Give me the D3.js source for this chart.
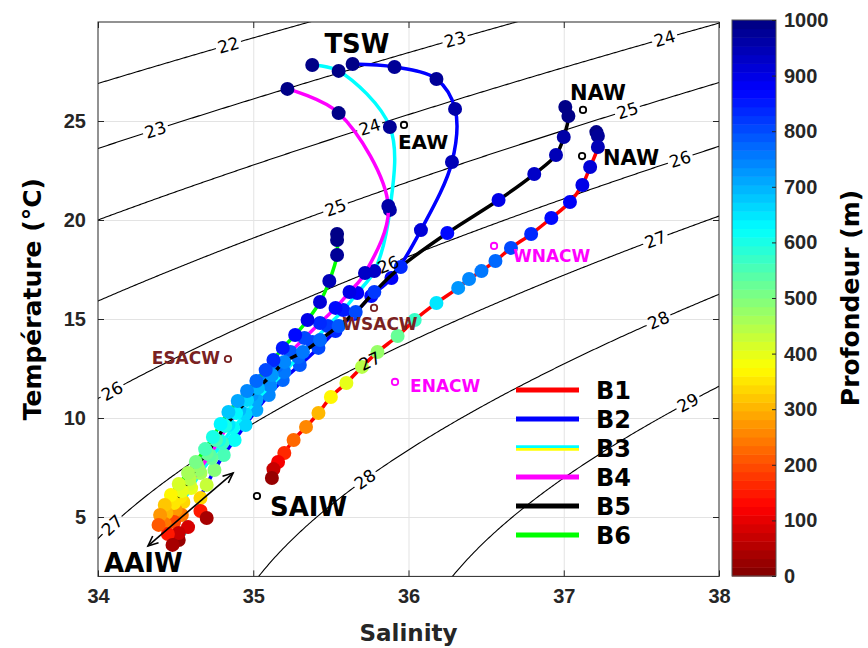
<!DOCTYPE html>
<html><head><meta charset="utf-8">
<script src="https://cdn.jsdelivr.net/npm/d3@7/dist/d3.min.js"></script>
<style>
body{margin:0;background:#fff}
text{font-family:"Liberation Sans",Arial,sans-serif}
</style>
</head><body>
<svg id="chart" width="868" height="648"></svg>
<script>
// ---------------- DATA ----------------
const stationNames = ["B1","B2","B3","B4","B5","B6"];
const stationLineColors = ["#ff0000","#0000ff","#00ffff","#ff00ff","#000000","#00ff00"];

const b1Sal   = [37.21,37.22,37.22,37.17,37.12,37.04,36.92,36.79,36.66,36.56,36.47,36.39,36.32,36.18,36.04,35.93,35.80,35.70,35.60,35.50,35.42,35.34,35.26,35.20,35.16,35.13,35.12];
const b1Temp  = [24.44,24.24,23.69,22.68,21.77,20.91,20.10,19.29,18.59,17.93,17.42,17.02,16.57,15.81,14.95,14.14,13.33,12.58,11.77,11.06,10.25,9.55,8.89,8.23,7.78,7.42,6.97];
const b1Depth = [1000,980,950,920,900,880,860,840,810,780,760,740,720,650,570,530,480,440,400,360,310,260,220,160,110,70,20];

const b2Sal   = [35.64,35.91,36.18,36.30,36.28,36.08,35.89,35.76,35.65,35.53,35.42,35.30,35.19,35.10,35.02,34.95,34.88,34.81,34.75,34.70,34.66,34.66,34.70];
const b2Temp  = [27.88,27.73,27.12,25.61,22.93,19.49,17.07,16.16,15.25,14.39,13.54,12.68,11.92,11.16,10.40,9.65,8.89,8.13,7.37,6.62,5.96,5.30,4.95];
const b2Depth = [990,980,970,960,940,910,890,870,850,830,810,790,770,745,715,670,620,560,500,430,330,150,40];

const b3Sal   = [35.38,35.55,35.88,35.88,35.78,35.67,35.58,35.48,35.38,35.29,35.20,35.11,35.02,34.95,34.87,34.80,34.73,34.66,34.60,34.55,34.54,34.58,34.52];
const b3Temp  = [27.83,27.53,24.70,20.51,17.42,16.31,15.45,14.65,13.84,13.08,12.32,11.62,10.91,10.20,9.49,8.74,7.98,7.22,6.46,5.76,5.10,4.49,3.84];
const b3Depth = [1000,990,975,955,925,885,855,825,800,780,760,735,705,670,625,575,520,460,400,330,250,80,30];

const b4Sal   = [35.22,35.55,35.87,35.72,35.62,35.53,35.43,35.33,35.24,35.15,35.06,34.99,34.91,34.84,34.78,34.72,34.65,34.59,34.53,34.50,34.49,34.52];
const b4Temp  = [26.62,25.40,20.71,17.32,16.36,15.56,14.80,14.04,13.33,12.63,11.92,11.16,10.40,9.65,8.89,8.13,7.37,6.67,6.01,5.35,4.75,4.19];
const b4Depth = [1000,990,960,930,895,865,835,810,790,770,750,725,690,645,595,540,480,420,350,280,190,70];

const b5Sal   = [37.01,37.03,37.00,36.95,36.81,36.58,36.25,35.95,35.78,35.66,35.55,35.43,35.32,35.20,35.12,35.03,34.96,34.89,34.82,34.76,34.70,34.64,34.59,34.54,34.49,34.44,34.43,34.45,34.48];
const b5Temp  = [25.71,25.25,24.19,23.28,22.32,21.01,19.34,17.63,16.36,15.35,14.65,13.94,13.33,12.83,12.17,11.52,10.91,10.25,9.60,8.89,8.23,7.58,6.92,6.31,5.71,5.20,4.65,4.14,3.59];
const b5Depth = [1000,990,965,945,925,900,870,840,815,800,785,770,755,740,720,700,670,640,600,560,520,480,440,395,350,300,240,150,40];

const b6Sal   = [35.54,35.54,35.54,35.49,35.43,35.35,35.27,35.19,35.13,35.08,35.02,34.96,34.90,34.84,34.79,34.74,34.69,34.63,34.58,34.52,34.47,34.43,34.40,34.39];
const b6Temp  = [19.29,18.99,18.23,16.92,15.86,14.95,14.19,13.54,12.93,12.42,11.87,11.36,10.86,10.30,9.70,9.04,8.43,7.78,7.22,6.67,6.11,5.61,5.10,4.60];
const b6Depth = [1000,995,975,950,920,895,870,850,830,800,775,745,715,680,640,600,555,510,465,420,370,320,270,210];

const xTicks = [34,35,36,37,38];
const yTicks = [5,10,15,20,25];
const depthTicks = [0,100,200,300,400,500,600,700,800,900,1000];
const sigmaLevels = [22,23,24,25,26,27,28,29];
// salinity at which each isopycnal is labelled
const sigmaLabelSal = [[34.84],[34.37,36.30],[35.75,37.65],[35.53,37.41],[34.09,35.87,37.75],[34.09,35.75,37.59],[35.72,37.61],[37.80]];

// water-mass annotations (marker position and text position, in S/T units)
const wmNames   = ["TSW","EAW","NAW","NAW","WNACW","WSACW","ESACW","ENACW","SAIW","AAIW"];
const wmMarkS   = [null,35.971,37.124,37.118,36.551,35.778,34.837,35.913,35.024,null];
const wmMarkT   = [null,24.80,25.56,23.23,18.69,15.56,12.98,11.82,6.06,null];
const wmTextS   = [35.668,35.932,37.040,37.253,36.673,35.816,34.786,36.010,35.108,34.039];
const wmTextT   = [28.89,23.94,26.46,23.18,18.18,14.75,13.03,11.62,5.51,2.68];
const wmAnchor  = ["middle","start","start","start","start","middle","end","start","start","start"];
const wmSize    = [26,20,21,21,17,17,17,17,26,26];
const wmColor   = ["#000","#000","#000","#000","#ff00ff","#7a2222","#7a2222","#ff00ff","#000","#000"];
const arrowS = [34.322,34.870];
const arrowT = [3.54,7.22];

// ---------------- CHART ----------------
const svg = d3.select("#chart");
const L = 98, R = 719, T = 22, B = 576.4;
const x = d3.scaleLinear().domain([34,38]).range([L,R]);
const y = d3.scaleLinear().domain([2,30]).range([B,T]);
const cb = d3.scaleLinear().domain([0,1000]).range([576,20]);
const axisColor = "#262626";
const fmt = d3.format("d");
const dejavu = "'DejaVu Sans',sans-serif";

function jetColor(v){
  const t = 1 - Math.max(0,Math.min(1000,v))/1000;
  const idx = Math.min(63, Math.floor(t*64));
  const q = (idx+0.5)/64;
  const c = u => Math.round(255*Math.max(0,Math.min(1,u)));
  return `rgb(${c(1.5-Math.abs(4*q-3))},${c(1.5-Math.abs(4*q-2))},${c(1.5-Math.abs(4*q-1))})`;
}

// UNESCO EOS-80 potential density anomaly at p=0
function sigma0(S,Tc){
  const rw = 999.842594 + 6.793952e-2*Tc - 9.095290e-3*Tc*Tc + 1.001685e-4*Tc**3 - 1.120083e-6*Tc**4 + 6.536332e-9*Tc**5;
  const A = 8.24493e-1 - 4.0899e-3*Tc + 7.6438e-5*Tc*Tc - 8.2467e-7*Tc**3 + 5.3875e-9*Tc**4;
  const Bc = -5.72466e-3 + 1.0227e-4*Tc - 1.6546e-6*Tc*Tc;
  return rw + A*S + Bc*Math.pow(S,1.5) + 4.8314e-4*S*S - 1000;
}
function solveT(lev,S){
  let lo=-2, hi=40;
  if (sigma0(S,lo) < lev || sigma0(S,hi) > lev) return null;
  for (let i=0;i<60;i++){ const m=(lo+hi)/2; if (sigma0(S,m) > lev) lo=m; else hi=m; }
  return (lo+hi)/2;
}

const defs = svg.append("defs");
defs.append("clipPath").attr("id","plotclip").append("rect")
  .attr("x",L).attr("y",T).attr("width",R-L).attr("height",B-T);

// grid
const grid = svg.append("g");
grid.append("g").attr("transform",`translate(0,${B})`)
  .call(d3.axisBottom(x).tickValues(xTicks.slice(1,-1)).tickSize(-(B-T)).tickFormat(""))
  .call(g=>g.select(".domain").remove())
  .call(g=>g.selectAll("line").attr("stroke","#e3e3e3").attr("stroke-width",1));
grid.append("g").attr("transform",`translate(${L},0)`)
  .call(d3.axisLeft(y).tickValues(yTicks).tickSize(-(R-L)).tickFormat(""))
  .call(g=>g.select(".domain").remove())
  .call(g=>g.selectAll("line").attr("stroke","#e3e3e3").attr("stroke-width",1));

// contour label positions
const labels = [];
sigmaLevels.forEach((lev,i)=>{
  sigmaLabelSal[i].forEach(s=>{
    const t0 = solveT(lev,s), t1 = solveT(lev,s-0.03), t2 = solveT(lev,s+0.03);
    const ang = Math.atan2(y(t2)-y(t1), x(s+0.03)-x(s-0.03))*180/Math.PI;
    labels.push({lev, s, t:t0, ang});
  });
});
const mask = defs.append("mask").attr("id","lblmask");
mask.append("rect").attr("x",0).attr("y",0).attr("width",868).attr("height",648).attr("fill","#fff");
labels.forEach(d=>{
  mask.append("rect").attr("x",-13).attr("y",-8).attr("width",26).attr("height",16).attr("fill","#000")
    .attr("transform",`translate(${x(d.s)},${y(d.t)}) rotate(${d.ang})`);
});

// isopycnals
const sGrid = d3.range(33.9,38.11,0.01);
const cLine = d3.line().x(d=>x(d[0])).y(d=>y(d[1]));
const contourG = svg.append("g").attr("clip-path","url(#plotclip)")
  .append("g").attr("mask","url(#lblmask)");
sigmaLevels.forEach(lev=>{
  const pts = sGrid.map(s=>[s,solveT(lev,s)]).filter(p=>p[1]!==null && p[1]>1 && p[1]<31);
  contourG.append("path").attr("d",cLine(pts)).attr("fill","none").attr("stroke","#000").attr("stroke-width",1.1);
});

// stations
const stations = [
  [b1Sal,b1Temp,b1Depth],[b2Sal,b2Temp,b2Depth],[b3Sal,b3Temp,b3Depth],
  [b4Sal,b4Temp,b4Depth],[b5Sal,b5Temp,b5Depth],[b6Sal,b6Temp,b6Depth]
];
const sLine = d3.line().x(d=>x(d.s)).y(d=>y(d.t)).curve(d3.curveCatmullRom.alpha(0.5));
const stG = svg.append("g").attr("clip-path","url(#plotclip)");
stations.forEach((st,i)=>{
  const pts = st[0].map((s,k)=>({s, t:st[1][k], d:st[2][k]}));
  stG.append("path").attr("d",sLine(pts)).attr("fill","none")
    .attr("stroke",stationLineColors[i]).attr("stroke-width",3.5);
  stG.selectAll(null).data(pts).enter().append("circle")
    .attr("cx",d=>x(d.s)).attr("cy",d=>y(d.t)).attr("r",7)
    .attr("fill",d=>jetColor(d.d));
});

// contour labels
svg.append("g").selectAll("text").data(labels).enter().append("text")
  .attr("transform",d=>`translate(${x(d.s)},${y(d.t)}) rotate(${d.ang})`)
  .attr("text-anchor","middle").attr("dy","0.36em")
  .style("font-family",dejavu).style("font-size","17px")
  .text(d=>d.lev);

// water mass annotations
const wmG = svg.append("g");
wmNames.forEach((n,i)=>{
  if (wmMarkS[i]!==null){
    wmG.append("circle").attr("cx",x(wmMarkS[i])).attr("cy",y(wmMarkT[i])).attr("r",3.2)
      .attr("fill","none").attr("stroke",wmColor[i]).attr("stroke-width",1.8);
  }
  wmG.append("text").attr("x",x(wmTextS[i])).attr("y",y(wmTextT[i])).attr("dy","0.36em")
    .attr("text-anchor",wmAnchor[i]).attr("fill",wmColor[i])
    .style("font-family",dejavu).style("font-weight","bold")
    .style("font-size",wmSize[i]+"px").text(n);
});

// double arrow
const ax0 = x(arrowS[0]), ay0 = y(arrowT[0]), ax1 = x(arrowS[1]), ay1 = y(arrowT[1]);
const arrG = svg.append("g").attr("stroke","#000").attr("stroke-width",1.6).attr("fill","none");
arrG.append("line").attr("x1",ax0).attr("y1",ay0).attr("x2",ax1).attr("y2",ay1);
function head(px,py,qx,qy){
  const a = Math.atan2(py-qy,px-qx), len=11, w=0.42;
  arrG.append("path").attr("d",`M${px-len*Math.cos(a-w)},${py-len*Math.sin(a-w)}L${px},${py}L${px-len*Math.cos(a+w)},${py-len*Math.sin(a+w)}`);
}
head(ax1,ay1,ax0,ay0); head(ax0,ay0,ax1,ay1);

// legend
const lg = svg.append("g");
stationNames.forEach((n,i)=>{
  const yy = 390 + i*29;
  if (n==="B3"){
    lg.append("line").attr("x1",516).attr("x2",579).attr("y1",yy-1.4).attr("y2",yy-1.4).attr("stroke","#00ffff").attr("stroke-width",2.6);
    lg.append("line").attr("x1",516).attr("x2",579).attr("y1",yy+1.4).attr("y2",yy+1.4).attr("stroke","#ffff00").attr("stroke-width",2.6);
  } else {
    lg.append("line").attr("x1",516).attr("x2",579).attr("y1",yy).attr("y2",yy)
      .attr("stroke",stationLineColors[i]).attr("stroke-width",5);
  }
  lg.append("text").attr("x",596).attr("y",yy).attr("dy","0.36em")
    .style("font-family",dejavu).style("font-weight","bold").style("font-size","24px")
    .text(n);
});

// axes
function styleAxis(g){
  g.select(".domain").remove();
  g.selectAll("line").attr("stroke",axisColor);
  g.selectAll("text").attr("fill",axisColor).style("font-size","20px").style("font-weight","bold")
    .style("font-family","'Liberation Sans',Arial,sans-serif");
}
svg.append("g").attr("transform",`translate(0,${B})`)
  .call(d3.axisBottom(x).tickValues(xTicks).tickFormat(fmt).tickSizeInner(-6).tickSizeOuter(0).tickPadding(12))
  .call(styleAxis);
svg.append("g").attr("transform",`translate(0,${T})`)
  .call(d3.axisTop(x).tickValues(xTicks).tickSizeInner(-6).tickSizeOuter(0).tickFormat(""))
  .call(styleAxis);
svg.append("g").attr("transform",`translate(${L},0)`)
  .call(d3.axisLeft(y).tickValues(yTicks).tickFormat(fmt).tickSizeInner(-6).tickSizeOuter(0).tickPadding(12))
  .call(styleAxis);
svg.append("g").attr("transform",`translate(${R},0)`)
  .call(d3.axisRight(y).tickValues(yTicks).tickSizeInner(-6).tickSizeOuter(0).tickFormat(""))
  .call(styleAxis);
svg.append("rect").attr("x",L).attr("y",T).attr("width",R-L).attr("height",B-T)
  .attr("fill","none").attr("stroke",axisColor).attr("stroke-width",1);

svg.append("text").attr("x",(L+R)/2).attr("y",633).attr("dy","0.36em").attr("text-anchor","middle")
  .attr("fill",axisColor).style("font-family",dejavu).style("font-size","23px").style("font-weight","bold").text("Salinity");
svg.append("text").attr("transform",`translate(32,${(T+B)/2}) rotate(-90)`).attr("dy","0.36em")
  .attr("text-anchor","middle").attr("fill","#000").style("font-family",dejavu).style("font-size","25px").style("font-weight","bold")
  .text("Température (°C)");

// colorbar
const cbX = 732, cbW = 44;
const cbG = svg.append("g");
const bands = d3.range(64);
cbG.selectAll("rect.band").data(bands).enter().append("rect")
  .attr("x",cbX).attr("width",cbW)
  .attr("y",k=>cb((k+1)*1000/64)).attr("height",k=>cb(k*1000/64)-cb((k+1)*1000/64)+0.5)
  .attr("fill",k=>jetColor((k+0.5)*1000/64));
cbG.append("rect").attr("x",cbX).attr("y",20).attr("width",cbW).attr("height",556)
  .attr("fill","none").attr("stroke","#555").attr("stroke-width",1);
cbG.append("g").attr("transform",`translate(${cbX+cbW},0)`)
  .call(d3.axisRight(cb).tickValues(depthTicks).tickFormat(fmt).tickSizeInner(-4).tickSizeOuter(0).tickPadding(8))
  .call(styleAxis);
svg.append("text").attr("transform",`translate(850,298) rotate(-90)`).attr("dy","0.36em")
  .attr("text-anchor","middle").attr("fill","#000").style("font-family",dejavu).style("font-size","25px").style("font-weight","bold")
  .text("Profondeur (m)");
</script>
</body></html>
